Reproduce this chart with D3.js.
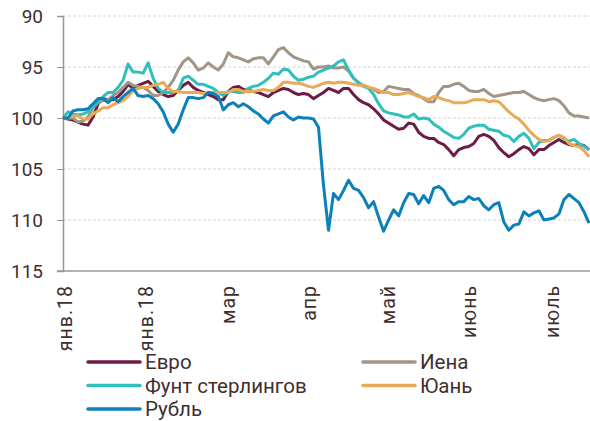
<!DOCTYPE html>
<html>
<head>
<meta charset="utf-8">
<script src="https://cdn.jsdelivr.net/npm/d3@7"></script>
<style>
body { margin: 0; background: #fff; }
text { font-family: Roboto, "Liberation Sans", sans-serif; fill: #3f2f2f; }
</style>
</head>
<body>
<div id="chart-area"></div>
<script>
// index of currencies, start of year = 100 (axis inverted)
var euro = [100, 100.1, 100.2, 100.4, 100.6, 100.7, 99.9, 98.6, 98.1, 98.2,
	98.2, 97.9, 97.4, 96.7, 97.1, 96.8, 96.6, 96.4, 96.9, 97.4,
	97.7, 97.9, 97.8, 97.3, 96.8, 96.5, 97.0, 97.3, 97.5, 97.7,
	97.9, 98.2, 98.2, 97.4, 97.0, 96.9, 97.2, 97.3, 97.4, 97.5,
	97.7, 97.9, 97.5, 97.3, 97.1, 97.2, 97.5, 97.7, 97.6, 97.7,
	98.1, 97.8, 97.5, 97.1, 97.3, 97.5, 97.1, 97.1, 97.7, 98.2,
	98.5, 98.7, 99.1, 99.6, 100.2, 100.5, 100.8, 101.1, 101.0, 100.5,
	100.6, 101.4, 101.8, 102.0, 102.0, 102.4, 102.6, 103.1, 103.7, 103.1,
	102.9, 102.8, 102.5, 101.8, 101.6, 101.8, 102.2, 102.9, 103.4, 103.8,
	103.5, 103.1, 102.8, 103.0, 103.6, 103.1, 103.1, 102.7, 102.4, 102.1,
	102.4, 102.6, 102.7, 102.6, 102.7, 103.1];

var yen = [100, 100, 100, 100.4, 100.3, 99.9, 99.0, 98.5, 98.3, 98.2,
	97.8, 97.5, 97.0, 96.5, 96.8, 96.9, 97.0, 97.3, 97.8, 97.8,
	97.5, 97.0, 96.3, 95.3, 94.5, 94.1, 94.6, 95.3, 95.1, 94.6,
	95.0, 95.3, 94.7, 93.6, 94.0, 94.1, 94.3, 94.5, 94.2, 94.1,
	94.1, 94.7, 94.0, 93.3, 93.1, 93.6, 94.0, 94.2, 94.4, 94.5,
	95.2, 95.0, 95.0, 94.9, 95.1, 95.1, 95.0, 95.4, 96.1, 96.6,
	96.8, 97.0, 97.2, 97.5, 97.4, 96.9, 97.0, 97.1, 97.2, 97.2,
	97.6, 97.8, 98.1, 98.4, 98.4, 97.5, 96.9, 96.9, 96.7, 96.6,
	96.9, 97.3, 97.4, 97.4, 97.2, 97.6, 97.9, 97.8, 97.7, 97.6,
	97.5, 97.5, 97.4, 97.7, 98.0, 98.2, 98.3, 98.2, 98.1, 98.3,
	98.8, 99.5, 99.8, 99.8, 99.9, 100.0];

var pound = [100, 99.4, 99.6, 99.7, 99.6, 99.4, 98.9, 98.4, 97.9, 97.5,
	97.5, 97.0, 96.3, 94.7, 95.5, 95.5, 95.6, 94.6, 96.1, 97.1,
	97.5, 97.5, 97.5, 97.3, 96.1, 95.9, 96.3, 96.7, 96.7, 96.9,
	97.1, 97.5, 97.8, 97.4, 97.4, 97.5, 97.5, 97.1, 96.9, 96.8,
	96.5, 96.1, 95.6, 95.7, 95.2, 95.3, 95.9, 96.3, 96.2, 96.0,
	95.9, 95.5, 95.3, 95.1, 94.9, 94.5, 94.3, 95.3, 96.1, 96.5,
	96.9, 97.1, 97.7, 98.6, 99.3, 99.5, 99.6, 99.7, 99.9, 99.9,
	99.6, 100.1, 100.0, 100.1, 100.6, 100.9, 101.3, 101.6, 101.9, 102.0,
	101.6, 101.0, 100.8, 100.7, 100.7, 101.1, 101.2, 101.3, 101.7, 101.8,
	102.3, 101.8, 101.5, 102.0, 103.0, 102.4, 102.2, 102.2, 101.9, 101.7,
	102.0, 102.3, 102.1, 102.5, 102.8, 103.1];

var yuan = [100, 100, 99.8, 99.8, 100.1, 100.1, 99.6, 99.3, 99.0, 99.0,
	98.7, 98.5, 98.3, 97.9, 97.3, 97.1, 97.0, 97.0, 96.8, 96.7,
	96.5, 97.1, 97.4, 97.4, 97.5, 97.5, 97.5, 97.5, 97.6, 97.5,
	97.5, 97.5, 97.5, 97.5, 97.2, 97.2, 97.4, 97.4, 97.4, 97.3,
	97.2, 97.3, 97.3, 97.0, 96.5, 96.5, 96.6, 96.6, 96.7, 96.9,
	97.0, 96.8, 96.6, 96.5, 96.6, 96.5, 96.5, 96.6, 96.7, 96.8,
	96.8, 97.0, 97.1, 97.3, 97.5, 97.5, 97.7, 97.7, 97.6, 97.5,
	97.7, 97.9, 98.0, 98.2, 97.9, 98.0, 98.2, 98.3, 98.5, 98.5,
	98.5, 98.4, 98.2, 98.2, 98.2, 98.4, 98.3, 98.4, 98.9, 99.4,
	99.8, 100.1, 100.6, 101.2, 101.7, 102.1, 102.3, 102.2, 101.9, 101.7,
	101.9, 102.5, 102.7, 102.8, 103.2, 103.8];

var ruble = [100, 100, 99.3, 99.2, 99.2, 99.1, 98.6, 98.1, 98.1, 98.5,
	98.0, 98.4, 97.9, 97.5, 97.1, 97.8, 97.9, 97.8, 98.1, 98.6,
	99.4, 100.6, 101.4, 100.6, 99.2, 98.0, 98.0, 98.1, 98.0, 97.5,
	97.6, 97.9, 99.2, 98.7, 98.5, 98.9, 98.6, 98.9, 99.3, 99.6,
	100.1, 100.5, 99.8, 99.6, 99.4, 99.9, 100.2, 99.9, 100.0, 100.0,
	100.1, 100.9, 106.6, 111.0, 107.4, 108.0, 107.1, 106.1, 106.9, 107.1,
	107.8, 108.8, 108.2, 109.7, 111.1, 110.0, 109.0, 109.6, 108.3, 107.4,
	107.5, 108.4, 107.6, 108.3, 106.9, 106.7, 107.1, 108.0, 108.5, 108.2,
	108.2, 107.7, 108.0, 107.9, 108.6, 109.0, 108.5, 108.3, 110.2, 111.0,
	110.5, 110.4, 109.2, 109.6, 109.3, 109.1, 110.0, 109.9, 109.8, 109.4,
	108.0, 107.5, 107.9, 108.3, 109.2, 110.3];

var seriesNames = ["Евро", "Иена", "Фунт стерлингов", "Юань", "Рубль"];
var seriesColors = ["#6d1c47", "#a39585", "#2fc0bd", "#e9a955", "#0b80b9"];
var seriesData = [euro, yen, pound, yuan, ruble];

var monthLabels = ["янв.18", "янв.18", "мар", "апр", "май", "июнь", "июль"];
var monthTickIdx = [0.5, 16.6, 33, 49.1, 64.9, 81.1, 97.6];
var yTicks = [90, 95, 100, 105, 110, 115];

var svgwidth = 590, svgheight = 421;
var margin = {top: 16, left: 63, right: 1, bottom: 150};

var svg = d3.select("#chart-area").append("svg")
	.attr("width", svgwidth)
	.attr("height", svgheight);

var x = d3.scaleLinear()
	.domain([0, euro.length - 1])
	.range([margin.left, svgwidth - margin.right]);
var y = d3.scaleLinear()
	.domain([90, 115])
	.range([margin.top, svgheight - margin.bottom]);

// gridlines
svg.append("g")
	.selectAll("line")
	.data(yTicks.slice(0, -1))
	.enter().append("line")
	.attr("x1", margin.left).attr("x2", svgwidth)
	.attr("y1", function(d) { return y(d); })
	.attr("y2", function(d) { return y(d); })
	.style("stroke", "#d4d4d4")
	.style("stroke-dasharray", "3,2")
	.style("stroke-width", 1);

// y axis
var yAxis = svg.append("g")
	.attr("transform", "translate(" + margin.left + ",0)")
	.call(d3.axisLeft(y).tickValues(yTicks).tickSize(6).tickPadding(14));
yAxis.select(".domain").style("stroke", "#9c9494").style("stroke-width", 1.5);
yAxis.selectAll(".tick line").style("stroke", "#9c9494").style("stroke-width", 1);
yAxis.selectAll("text").style("font-size", "19px").style("font-family", null);

// x axis line
svg.append("line")
	.attr("x1", margin.left - 6).attr("x2", svgwidth)
	.attr("y1", y(115)).attr("y2", y(115))
	.style("stroke", "#9c9494").style("stroke-width", 1.5);

// month labels
svg.append("g").selectAll("text")
	.data(monthLabels)
	.enter().append("text")
	.attr("transform", function(d, i) {
		return "translate(" + x(monthTickIdx[i]) + "," + (y(115) + 14) + ") rotate(-90)";
	})
	.attr("text-anchor", "end")
	.attr("dy", "0.35em")
	.style("font-size", "19.5px")
	.style("letter-spacing", "1px")
	.text(function(d) { return d; });

// lines
var line = d3.line()
	.x(function(d, i) { return x(i); })
	.y(function(d) { return y(d); });

seriesData.forEach(function(s, k) {
	svg.append("path")
		.datum(s)
		.attr("d", line)
		.style("fill", "none")
		.style("stroke", seriesColors[k])
		.style("stroke-width", 3)
		.style("stroke-linejoin", "round");
});

// legend
var legendX = [88, 363], legendY = [362, 385.5, 409];
seriesNames.forEach(function(name, k) {
	var col = k % 2, row = Math.floor(k / 2);
	var g = svg.append("g")
		.attr("transform", "translate(" + legendX[col] + "," + legendY[row] + ")");
	g.append("line")
		.attr("x1", 0).attr("x2", 52)
		.style("stroke", seriesColors[k])
		.style("stroke-width", 3.5)
		.style("stroke-linecap", "round");
	g.append("text")
		.attr("x", 57)
		.attr("dy", "0.36em")
		.style("font-size", "20.5px")
		.text(name);
});
</script>
</body>
</html>
